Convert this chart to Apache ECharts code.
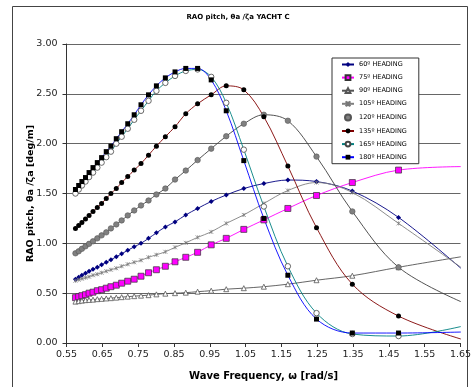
<!DOCTYPE html>
<html><head><meta charset="utf-8">
<script src="https://cdn.jsdelivr.net/npm/echarts@6/dist/echarts.min.js"></script>
<style>html,body{margin:0;padding:0;background:#fff}#c{width:476px;height:387px}</style>
</head><body><div id="c"></div>
<script>
const freq = [0.575,0.584,0.593,0.603,0.613,0.624,0.636,0.648,0.661,0.674,0.689,0.704,0.721,0.739,0.758,0.779,0.801,0.826,0.853,0.883,0.916,0.954,0.996,1.045,1.101,1.168,1.248,1.348,1.477,1.651];
const h60 = [0.64,0.66,0.68,0.70,0.72,0.74,0.76,0.785,0.81,0.835,0.865,0.895,0.93,0.965,1.00,1.05,1.105,1.165,1.215,1.285,1.35,1.42,1.485,1.55,1.60,1.635,1.62,1.525,1.26,0.75];
const h75 = [0.455,0.465,0.475,0.485,0.50,0.51,0.525,0.535,0.55,0.565,0.58,0.60,0.62,0.64,0.67,0.705,0.735,0.77,0.815,0.86,0.91,0.985,1.05,1.14,1.235,1.35,1.48,1.61,1.735,1.77];
const h90 = [0.415,0.42,0.425,0.43,0.432,0.435,0.44,0.443,0.447,0.45,0.455,0.46,0.465,0.47,0.475,0.48,0.488,0.495,0.50,0.505,0.515,0.525,0.54,0.55,0.565,0.59,0.63,0.675,0.76,0.865];
const h105 = [0.625,0.635,0.645,0.655,0.665,0.68,0.69,0.705,0.72,0.735,0.75,0.77,0.79,0.81,0.83,0.86,0.885,0.915,0.96,1.005,1.06,1.115,1.20,1.285,1.40,1.53,1.61,1.51,1.20,0.76];
const h120 = [0.90,0.92,0.945,0.97,0.995,1.02,1.05,1.08,1.11,1.15,1.19,1.23,1.28,1.33,1.38,1.43,1.49,1.55,1.64,1.73,1.835,1.95,2.075,2.20,2.29,2.23,1.87,1.32,0.76,0.415];
const h135 = [1.15,1.18,1.21,1.245,1.28,1.32,1.36,1.40,1.45,1.50,1.55,1.61,1.67,1.735,1.80,1.885,1.975,2.07,2.17,2.30,2.40,2.49,2.58,2.54,2.27,1.775,1.157,0.59,0.27,0.04];
const h165 = [1.50,1.54,1.58,1.62,1.665,1.71,1.76,1.81,1.865,1.92,2.00,2.07,2.15,2.24,2.33,2.43,2.53,2.61,2.68,2.73,2.745,2.67,2.41,1.94,1.37,0.77,0.30,0.09,0.07,0.165];
const h180 = [1.54,1.58,1.62,1.66,1.71,1.76,1.81,1.86,1.92,1.975,2.05,2.12,2.20,2.29,2.39,2.49,2.58,2.66,2.72,2.755,2.755,2.64,2.33,1.83,1.25,0.68,0.24,0.10,0.10,0.11];
const names = ['60º HEADING','75º HEADING','90º HEADING','105º HEADING','120º HEADING','135º HEADING','165º HEADING','180º HEADING'];
const titleText = 'RAO pitch, θa /ζa YACHT C';
const xTitle = 'Wave Frequency, ω [rad/s]';
const yTitle = 'RAO pitch, θa /ζa [deg/m]';

const pts = v => freq.map((f,i)=>[f, v[i]]);
const FONT = 'DejaVu Sans';
function mk(name, vals, lineColor, symbol, size, fill, border, bw){
  return {name, type:'line', data:pts(vals), smooth:0.35, symbol, symbolSize:size,
    showAllSymbol:true, animation:false,
    lineStyle:{color:lineColor, width:0.9},
    itemStyle:{color:fill, borderColor:border, borderWidth:bw},
    emphasis:{disabled:true}};
}
const crossPath = 'path://M0,0L10,10M10,0L0,10M5,0L5,10';
const series = [
  mk(names[0], h60, '#000080', 'diamond', 5, '#000080', '#000080', 0),
  mk(names[1], h75, '#FF00FF', 'rect', 6, '#FF00FF', '#333', 0.7),
  mk(names[2], h90, '#555555', 'triangle', 5, '#ffffff', '#555', 0.8),
  mk(names[3], h105, '#808080', crossPath, 4, '#888', '#777', 0.7),
  mk(names[4], h120, '#404040', 'circle', 5.5, '#808080', '#555', 0.6),
  mk(names[5], h135, '#800000', 'circle', 5, '#000000', '#000', 0),
  mk(names[6], h165, '#008080', 'circle', 5.5, '#ffffff', '#444', 0.8),
  mk(names[7], h180, '#0000FF', 'rect', 5, '#000000', '#000', 0)
];
const chart = echarts.init(document.getElementById('c'), null, {renderer:'canvas'});
chart.setOption({
  animation:false,
  backgroundColor:'#fff',
  title:{text:titleText, left:'center', top:9, textStyle:{fontFamily:FONT, fontSize:7, fontWeight:'bold', color:'#000'}},
  graphic:[{type:'rect', shape:{x:12.5, y:6.5, width:455, height:400}, style:{fill:'none', stroke:'#444', lineWidth:1}, silent:true}],
  grid:{left:66.5, right:15.5, top:44, bottom:44},
  legend:{orient:'vertical', left:332, top:58, itemWidth:12, itemHeight:6, itemGap:6.1,
    padding:[3,12,3,9], borderColor:'#333', borderWidth:1, backgroundColor:'#fff',
    textStyle:{fontFamily:FONT, fontSize:6.5, lineHeight:6, color:'#000'},
    data:names.map((n,i)=> i===4 ? {name:n, icon:'circle'} : {name:n}), selectedMode:false},
  xAxis:{type:'value', min:0.55, max:1.65, interval:0.1,
    name:xTitle, nameLocation:'middle', nameGap:28, nameMoveOverlap:false,
    nameTextStyle:{fontFamily:FONT, fontSize:10, fontWeight:'bold', color:'#000'},
    axisLine:{lineStyle:{color:'#333', width:1}},
    axisTick:{show:true, inside:false, length:4, lineStyle:{color:'#333'}},
    axisLabel:{fontFamily:FONT, fontSize:9.5, color:'#222', margin:7, formatter:v=>v.toFixed(2)},
    splitLine:{show:false}},
  yAxis:{type:'value', min:0, max:3, interval:0.5,
    name:yTitle, nameLocation:'middle', nameGap:31, nameMoveOverlap:false,
    nameTextStyle:{fontFamily:FONT, fontSize:9.5, fontWeight:'bold', color:'#000'},
    axisLine:{show:true, lineStyle:{color:'#333', width:1}},
    axisTick:{show:true, inside:false, length:4, lineStyle:{color:'#333'}},
    axisLabel:{fontFamily:FONT, fontSize:9.5, color:'#222', margin:9, formatter:v=>v.toFixed(2)},
    splitLine:{show:true, lineStyle:{color:'#666', width:1}}},
  series
});
</script></body></html>
